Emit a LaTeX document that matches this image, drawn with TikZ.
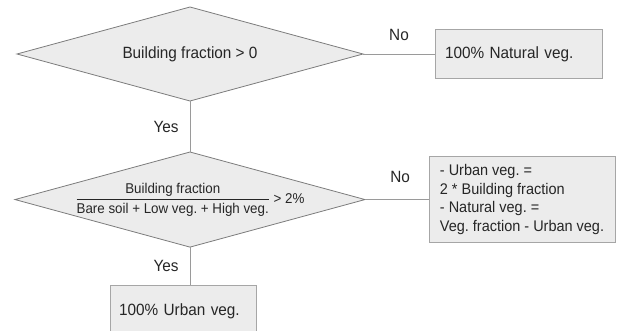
\documentclass[tikz,border=0pt]{standalone}
\usepackage{amsmath}
\usepackage{fontspec}
\setmainfont[FakeStretch=0.94]{Liberation Sans}
\usetikzlibrary{shapes.geometric,positioning}
\frenchspacing

\definecolor{boxfill}{HTML}{ECECEC}
\definecolor{boxline}{HTML}{A6A6A6}
\definecolor{diamline}{HTML}{7C7C7C}
\definecolor{wirecol}{HTML}{9A9A9A}
\definecolor{ink}{HTML}{262626}

\tikzset{
    decision/.style={diamond, draw=diamline, fill=boxfill, line width=0.8pt,
        aspect=3.68, inner sep=0pt, outer sep=0pt,
        minimum width=346pt, minimum height=94pt, text=ink},
    result/.style={rectangle, draw=boxline, fill=boxfill, line width=0.9pt,
        align=left, inner sep=0pt, outer sep=0pt, text=ink},
    answer/.style={text=ink, inner sep=2pt},
    wire/.style={draw=wirecol, line width=0.9pt},
}

\begin{document}
\begin{tikzpicture}[x=1pt, y=1pt, font=\fontsize{16.3}{18.4}\selectfont]
    \useasboundingbox (0,0) rectangle (617,330);

    % decisions
    \node[decision] (d1) at (190,276) {Building fraction > 0};
    \node[decision, below=51pt of d1, font=\fontsize{14.2}{16}\selectfont] (d2)
        {$\dfrac{\text{Building fraction}}{\text{Bare soil + Low veg. + High veg.}}$ > 2\%};

    % outcomes
    \node[result, right=72pt of d1, minimum width=167pt, minimum height=49pt,
        text width=147pt] (b1) {100\% Natural veg.};
    \node[result, right=64pt of d2, minimum width=186pt, minimum height=86pt,
        inner xsep=8pt, font=\fontsize{15.4}{18.4}\selectfont] (b2)
        {- Urban veg. =\\2 * Building fraction\\- Natural veg. =\\Veg. fraction - Urban veg.};
    \node[result, below=38pt of d2, xshift=-7pt, minimum width=146pt,
        minimum height=52pt, text width=128pt] (b3) {100\% Urban veg.};

    \draw[wire] (d1.east) -- node[answer, above=11pt] (no1) {No} (b1.west |- d1.east);
    \draw[wire] (d1.south) -- node[answer, left=9pt] (yes1) {Yes} (d2.north);
    \draw[wire] (d2.east) -- node[answer, above=14pt, pos=0.55] (no2) {No} (b2.west |- d2.east);
    \draw[wire] (d2.south) -- node[answer, left=9pt] (yes2) {Yes} (d2.south |- b3.north);
\end{tikzpicture}
\end{document}
